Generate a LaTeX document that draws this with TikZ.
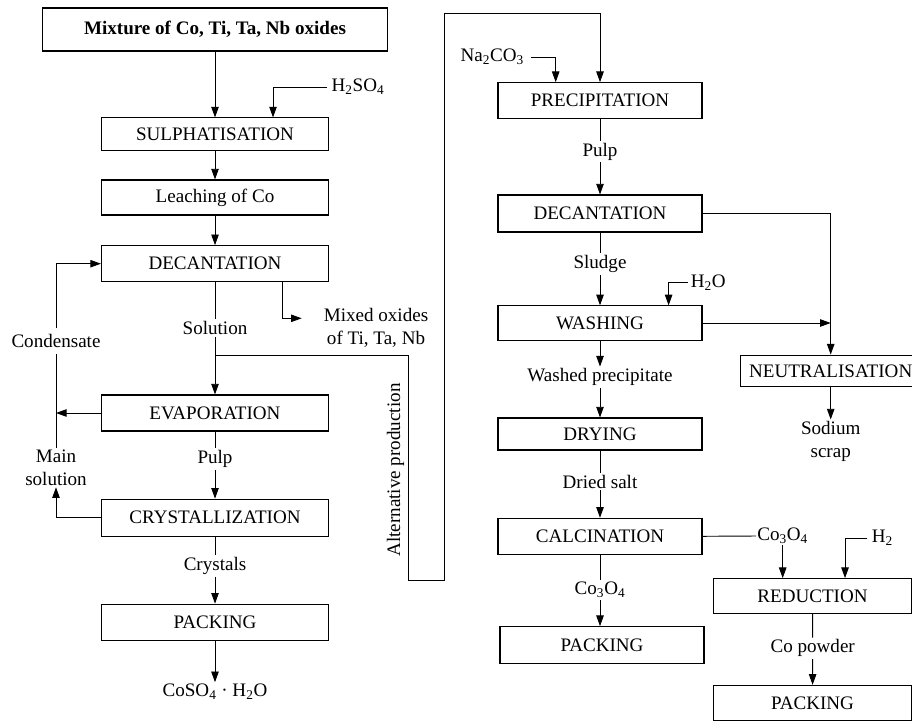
\documentclass[tikz,border=0pt]{standalone}
\usepackage{fontspec}
\setmainfont{Liberation Serif}
\usetikzlibrary{positioning, arrows.meta, calc}

\tikzset{
  stage/.style={draw, line width=0.8pt, minimum height=27pt, inner sep=2pt},
  leftbox/.style={minimum width=170.25pt},
  rightbox/.style={minimum width=153pt},
  flow/.style={inner sep=1.2pt},
  feed/.style={inner sep=3pt},
}

\begin{document}
\begin{tikzpicture}[x=0.75pt, y=-0.75pt, >={Triangle[length=8pt, width=5.6pt]},
    font=\fontsize{14.3}{17}\selectfont, line width=0.7pt]

  \useasboundingbox (0,0) rectangle (912,720);

  % Cobalt sulphate route
  \node[stage, minimum width=258.75pt, minimum height=32.25pt,
        font=\fontsize{14.3}{17}\selectfont\bfseries] (mix) at (215,29.5) {Mixture of Co, Ti, Ta, Nb oxides};
  \node[stage, leftbox, minimum height=24.5pt] (sulph) at (215,134.3) {SULPHATISATION};
  \node[stage, leftbox, minimum height=26.25pt] (leach) at (215,197.5) {Leaching of Co};
  \node[stage, leftbox] (dec1) at (215,263.7) {DECANTATION};
  \node[stage, leftbox] (evap) at (215,413) {EVAPORATION};
  \node[stage, leftbox, minimum height=27.75pt] (cryst) at (215,517.7) {CRYSTALLIZATION};
  \node[stage, leftbox] (pack1) at (215,622.2) {PACKING};

  \node[feed] (h2so4) at (358,87) {H\textsubscript{2}SO\textsubscript{4}};
  \node[flow] (solution) at (215,328) {Solution};
  \node[flow] (pulp1) at (215,459) {Pulp};
  \node[flow] (crystals) at (215,566) {Crystals};
  \node[flow] (coso4) at (215,692) {CoSO\textsubscript{4} · H\textsubscript{2}O};
  \node[align=center] (mixed) at (376,328) {Mixed oxides\\of Ti, Ta, Nb};
  \coordinate (mixout) at (301.7,318.3);

  % Recycle loop
  \node[align=center, flow] (mainsol) at (56,467.5) {Main\\solution};
  \node[inner sep=4pt] (condensate) at (56,341) {Condensate};

  % Alternative production route
  \coordinate (branch) at (215,355.7);
  \coordinate (altdown) at (408,580);
  \coordinate (altup) at (444,13.3);
  \node[rotate=90] (alt) at (395.5,470) {Alternative production};

  % Cobalt oxide and powder route
  \node[stage, rightbox] (prec) at (600,100.7) {PRECIPITATION};
  \node[stage, rightbox, minimum height=27.75pt] (dec2) at (600,213.5) {DECANTATION};
  \node[stage, rightbox, minimum height=25.7pt] (wash) at (600,323) {WASHING};
  \node[stage, rightbox, minimum height=24pt] (dry) at (600,434) {DRYING};
  \node[stage, rightbox] (calc) at (600,536.3) {CALCINATION};
  \node[stage, rightbox, minimum height=27.5pt] (pack2) at (602,645) {PACKING};
  \node[stage, minimum width=135.75pt, minimum height=23.8pt] (neut) at (830.7,371) {NEUTRALISATION};
  \node[stage, minimum width=148.8pt, minimum height=26pt] (red) at (812.5,596) {REDUCTION};
  \node[stage, minimum width=148.8pt, minimum height=26.5pt] (pack3) at (812.5,703) {PACKING};

  \node[feed, inner xsep=5pt] (na2co3) at (492.3,57) {Na\textsubscript{2}CO\textsubscript{3}};
  \node[flow] (pulp2) at (600,151.7) {Pulp};
  \node[flow] (sludge) at (600,264) {Sludge};
  \node[feed, inner xsep=2pt] (h2o) at (708.3,282.3) {H\textsubscript{2}O};
  \node[flow] (washed) at (600,377.3) {Washed precipitate};
  \node[flow] (dried) at (600,481.7) {Dried salt};
  \node[flow] (co3o4a) at (600,590) {Co\textsubscript{3}O\textsubscript{4}};
  \node[inner sep=0.5pt] (co3o4b) at (782.7,536) {Co\textsubscript{3}O\textsubscript{4}};
  \node[feed] (h2) at (882.3,538) {H\textsubscript{2}};
  \node[flow] (copow) at (812.7,648.3) {Co powder};
  \node[align=center, flow] (sodium) at (830.7,441.5) {Sodium\\scrap};

  % Connectors, left
  \draw[->] (mix) -- (sulph);
  \draw[->] (h2so4.west) -| ($(sulph.north)+(58,0)$);
  \draw[->] (sulph) -- (leach);
  \draw[->] (leach) -- (dec1);
  \draw (dec1) -- (solution);
  \draw[->] (solution) -- (evap);
  \draw[->] ($(dec1.south)+(67.7,0)$) |- (mixout);
  \draw (evap) -- (pulp1);
  \draw[->] (pulp1) -- (cryst);
  \draw (cryst) -- (crystals);
  \draw[->] (crystals) -- (pack1);
  \draw[->] (pack1) -- (coso4);
  \draw[->] (evap.west) -- (evap.west -| mainsol);
  \draw[->] (cryst.west) -| (mainsol.south);
  \draw (mainsol.north) -- (condensate.south);
  \draw[->] (condensate.north) |- (dec1.west);
  \draw[->] (branch) -| (altdown) -| (altup) -| (prec.north);

  % Connectors, right
  \draw[->] (na2co3.east) -| ($(prec.north)+(-44.3,0)$);
  \draw (prec) -- (pulp2);
  \draw[->] (pulp2) -- (dec2);
  \draw (dec2) -- (sludge);
  \draw[->] (sludge) -- (wash);
  \draw[->] (h2o.west) -| ($(wash.north)+(68.6,0)$);
  \draw[->] (wash) -- (washed);
  \draw[->] (washed) -- (dry);
  \draw (dry) -- (dried);
  \draw[->] (dried) -- (calc);
  \draw (calc) -- (co3o4a);
  \draw[->] (co3o4a) -- (co3o4a |- pack2.north);
  \draw (calc.east) -- (co3o4b.west);
  \draw[->] (co3o4b.south) -- (co3o4b.south |- red.north);
  \draw[->] (h2.west) -| ($(red.north)+(32.5,0)$);
  \draw (red) -- (copow);
  \draw[->] (copow) -- (pack3);
  \draw[->] (dec2.east) -| (neut.north);
  \draw[->] (wash.east) -- (wash.east -| neut.north);
  \draw[->] (neut) -- (sodium);

\end{tikzpicture}
\end{document}
